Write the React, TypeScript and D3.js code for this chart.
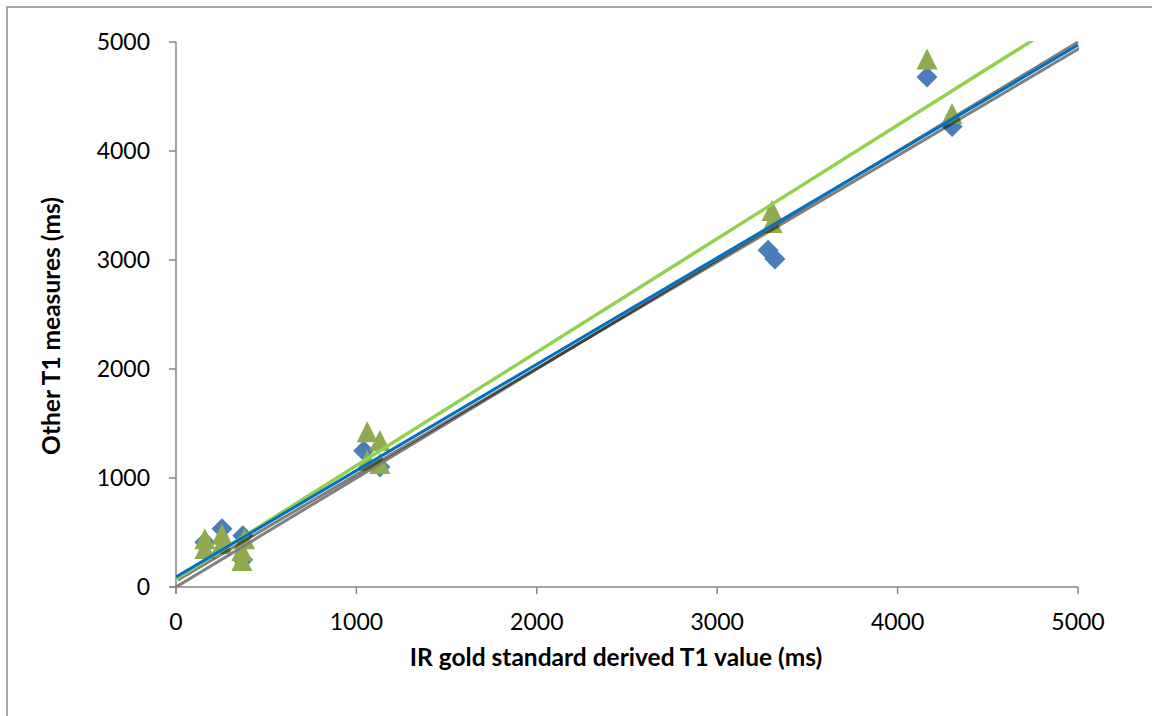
import React from "react";
import * as d3 from "d3";

// Axis ticks (ms)
const xTicks = [0, 1000, 2000, 3000, 4000, 5000];
const yTicks = [0, 1000, 2000, 3000, 4000, 5000];

// Method A (blue diamonds): [IR gold standard T1, measured T1]
const methodA: [number, number][] = [
  [160, 410],
  [255, 535],
  [370, 470],
  [370, 250],
  [1040, 1250],
  [1130, 1100],
  [3282, 3090],
  [3320, 3010],
  [4163, 4680],
  [4302, 4225],
];

// Method B (green triangles)
const methodB: [number, number][] = [
  [160, 430],
  [160, 340],
  [255, 470],
  [255, 385],
  [380, 430],
  [365, 320],
  [365, 230],
  [1060, 1410],
  [1060, 1150],
  [1130, 1330],
  [1130, 1120],
  [3304, 3440],
  [3304, 3330],
  [4163, 4830],
  [4302, 4330],
];

// Linear fits: intercept (ms) and slope
const fitA = { intercept: 92, slope: 0.976 };
const fitB = { intercept: 73, slope: 1.041 };
const identity = { intercept: 0, slope: 1 };

const W = 1152;
const H = 716;
const left = 176;
const right = 1078;
const top = 42;
const bottom = 587;

const FONT = "Lato, 'Open Sans', sans-serif";

// marker shapes centred on the data point
const DIAMOND = "M0,-10.5L10.5,0L0,10.5L-10.5,0Z";
const TRIANGLE = "M0,-12L10.5,9L-10.5,9Z";

export default function App() {
  const x = d3.scaleLinear().domain([0, 5000]).range([left, right]);
  const y = d3.scaleLinear().domain([0, 5000]).range([bottom, top]);

  const fitLine = (f: { intercept: number; slope: number }) => {
    const pts: [number, number][] = [0, 5000].map((v) => [v, f.intercept + f.slope * v]);
    return d3
      .line<[number, number]>()
      .x((d) => x(d[0]))
      .y((d) => y(d[1]))(pts) as string;
  };

  const axisColor = "#868686";

  return (
    <svg
      width={W}
      height={H}
      style={{ position: "absolute", left: 0, top: 0, background: "#fff" }}
      fontFamily={FONT}
    >
      <defs>
        <clipPath id="plot-clip">
          <rect x={left} y={top - 1} width={right - left + 1} height={bottom - top + 1} />
        </clipPath>
        <filter id="soft" x="-5%" y="-5%" width="110%" height="110%">
          <feGaussianBlur stdDeviation="0.5" />
        </filter>
      </defs>

      {/* outer chart frame */}
      <path d={`M7,${H} L7,7 L${W},7`} fill="none" stroke="#8c8c8c" strokeWidth={1.5} />

      {/* axes */}
      <line x1={left} x2={left} y1={top} y2={bottom + 6} stroke={axisColor} strokeWidth={1.5} />
      <line x1={left - 6} x2={right} y1={bottom} y2={bottom} stroke={axisColor} strokeWidth={1.5} />
      {yTicks.map((t) => (
        <line key={"yt" + t} x1={left - 7} x2={left} y1={y(t)} y2={y(t)} stroke={axisColor} strokeWidth={1.5} />
      ))}
      {xTicks.map((t) => (
        <line key={"xt" + t} x1={x(t)} x2={x(t)} y1={bottom} y2={bottom + 7} stroke={axisColor} strokeWidth={1.5} />
      ))}

      {/* tick labels */}
      {yTicks.map((t) => (
        <text key={"yl" + t} x={left - 26} y={y(t)} dy="0.35em" textAnchor="end" fontSize={23} fill="#000">
          {t}
        </text>
      ))}
      {xTicks.map((t) => (
        <text key={"xl" + t} x={x(t)} y={bottom + 35} dy="0.35em" textAnchor="middle" fontSize={23} fill="#000">
          {t}
        </text>
      ))}

      {/* axis titles */}
      <text x={616} y={657} dy="0.35em" textAnchor="middle" fontSize={24.5} fontWeight="bold" fill="#000">
        IR gold standard derived T1 value (ms)
      </text>
      <text
        transform={`translate(51,326) rotate(-90)`}
        dy="0.35em"
        textAnchor="middle"
        fontSize={24.5}
        fontWeight="bold"
        fill="#000"
      >
        Other T1 measures (ms)
      </text>

      {/* markers */}
      <g>
        {methodA.map((d, i) => (
          <path key={"a" + i} d={DIAMOND} transform={`translate(${x(d[0])},${y(d[1])})`} fill="#4a7ebb" />
        ))}
        {methodB.map((d, i) => (
          <path key={"b" + i} d={TRIANGLE} transform={`translate(${x(d[0])},${y(d[1])})`} fill="#8faa4f" />
        ))}
      </g>

      {/* trend lines */}
      <g clipPath="url(#plot-clip)">
        <path d={fitLine(identity)} stroke="#808080" strokeWidth={3} fill="none" />
        <path
          d={fitLine(fitA)}
          stroke="#000"
          strokeOpacity={0.5}
          strokeWidth={3}
          fill="none"
          transform="translate(2,3)"
          filter="url(#soft)"
        />
        <path d={fitLine(fitB)} stroke="#92d050" strokeWidth={3.5} fill="none" />
        <path d={fitLine(fitA)} stroke="#0070c0" strokeWidth={3} fill="none" />
      </g>
    </svg>
  );
}
